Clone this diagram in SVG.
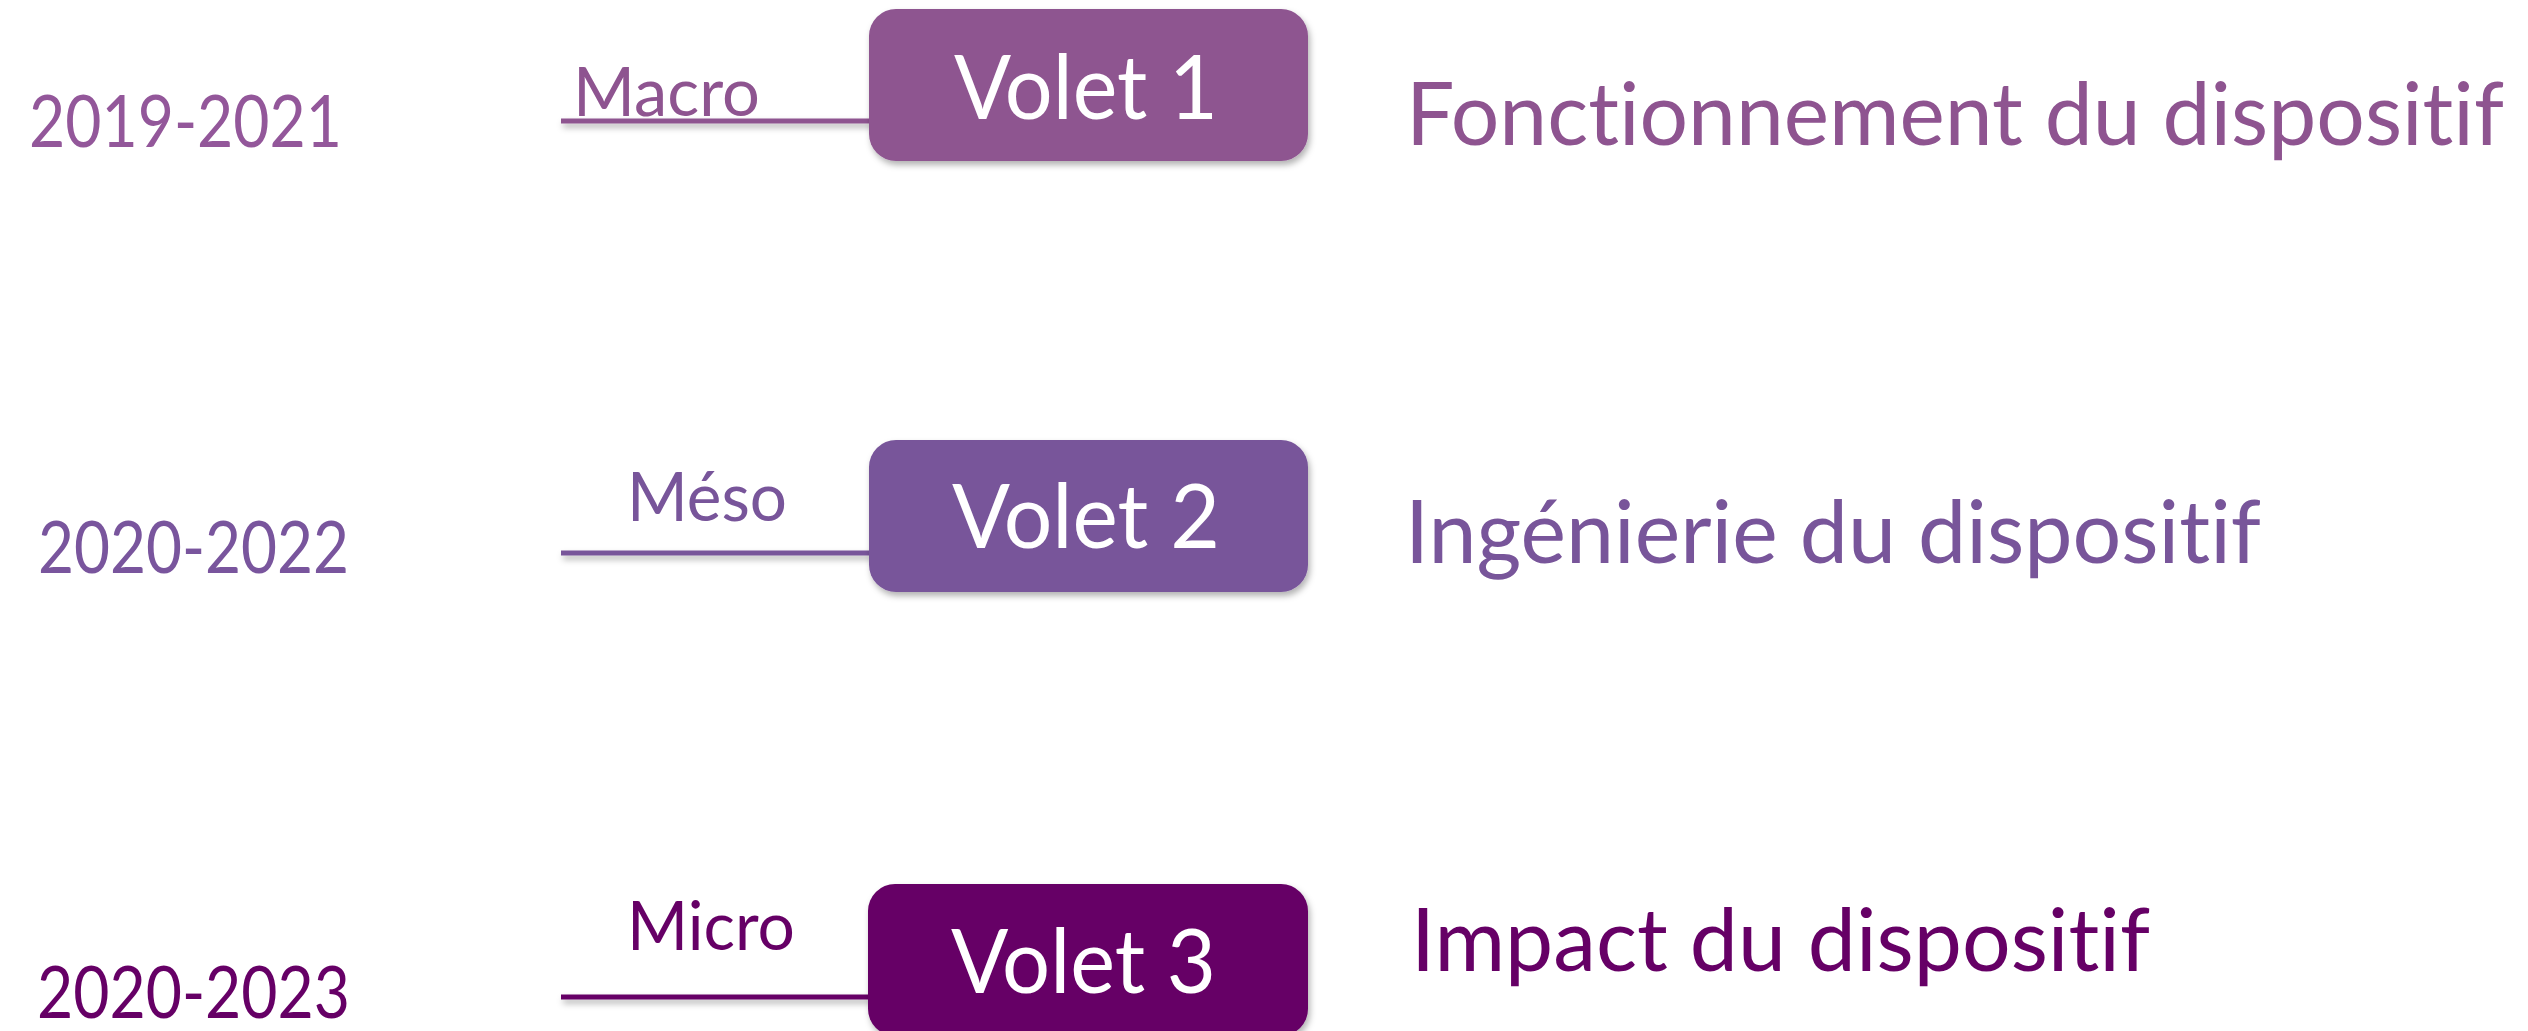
<svg xmlns="http://www.w3.org/2000/svg" width="2528" height="1031" viewBox="0 0 2528 1031">
<style>
text { font-family: Lato, "Open Sans", "Liberation Sans", sans-serif; font-variant-ligatures: none; font-feature-settings: "liga" 0, "clig" 0; }
.date { font-size: 72px; }
.lvl { font-size: 68px; }
.vol { font-size: 89px; fill: #FFFFFF; }
.desc { font-size: 88px; }
.r1 { fill: #93579A; }
.r2 { fill: #79559D; }
.r3 { fill: #660066; }
.box { filter: url(#sh); }
.ln { filter: url(#sh); }
</style>
<defs>
<filter id="sh" filterUnits="userSpaceOnUse" x="0" y="0" width="2528" height="1031">
<feDropShadow dx="2" dy="4" stdDeviation="3" flood-color="#000000" flood-opacity="0.3"/>
</filter>
</defs>
<g id="connectors">
<rect class="ln" x="561" y="118.5" width="311" height="5" fill="#8E5490"/>
<rect class="ln" x="561" y="550.5" width="311" height="5" fill="#78559A"/>
<rect class="ln" x="561" y="994.5" width="311" height="5" fill="#660066"/>
</g>
<g id="row1">
<text class="date r1" x="29" y="147" textLength="313" lengthAdjust="spacingAndGlyphs">2019-2021</text>
<text class="lvl" x="573" y="116" fill="#8E5490" textLength="187" lengthAdjust="spacingAndGlyphs">Macro</text>
<g id="volet1">
<rect class="box" x="869" y="9" width="439" height="152" rx="27" fill="#8E5490"/>
<text class="vol" x="954" y="119" textLength="264" lengthAdjust="spacingAndGlyphs">Volet 1</text>
</g>
<text class="desc" x="1406" y="145" fill="#8E5490" textLength="1098" lengthAdjust="spacingAndGlyphs">Fonctionnement du dispositif</text>
</g>
<g id="row2">
<text class="date r2" x="38" y="573" textLength="311" lengthAdjust="spacingAndGlyphs">2020-2022</text>
<text class="lvl" x="627" y="521" fill="#78559A" textLength="160" lengthAdjust="spacingAndGlyphs">Méso</text>
<g id="volet2">
<rect class="box" x="869" y="440" width="439" height="152" rx="27" fill="#78559A"/>
<text class="vol" x="952" y="548" textLength="268" lengthAdjust="spacingAndGlyphs">Volet 2</text>
</g>
<text class="desc" x="1405" y="563" fill="#78559A" textLength="856" lengthAdjust="spacingAndGlyphs">Ingénierie du dispositif</text>
</g>
<g id="row3">
<text class="date r3" x="37" y="1018" textLength="313" lengthAdjust="spacingAndGlyphs">2020-2023</text>
<text class="lvl" x="627" y="950" fill="#660066" textLength="168" lengthAdjust="spacingAndGlyphs">Micro</text>
<g id="volet3">
<rect class="box" x="868" y="884" width="440" height="152" rx="27" fill="#660066"/>
<text class="vol" x="951" y="993" textLength="265" lengthAdjust="spacingAndGlyphs">Volet 3</text>
</g>
<text class="desc" x="1411" y="971" fill="#660066" textLength="739" lengthAdjust="spacingAndGlyphs">Impact du dispositif</text>
</g>
</svg>
